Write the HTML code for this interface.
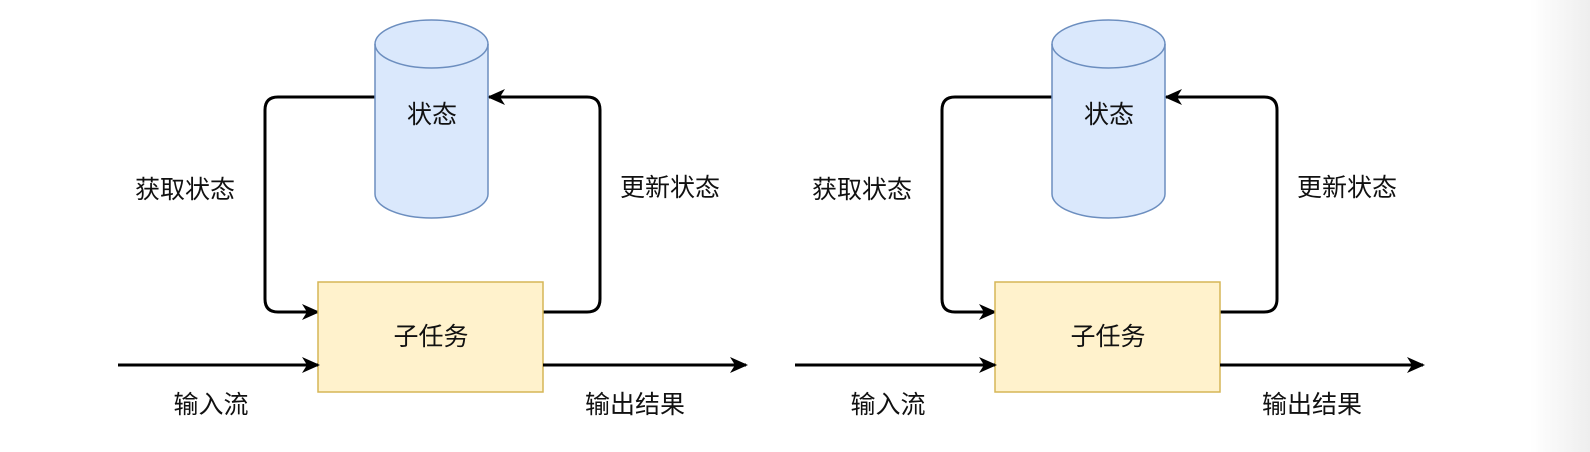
<!DOCTYPE html>
<html><head><meta charset="utf-8"><style>
html,body{margin:0;padding:0;width:1590px;height:452px;overflow:hidden;background:#fff}
svg{display:block}
text{font-family:"Liberation Sans","Noto Sans CJK SC",sans-serif;font-size:25px;fill:#111;text-anchor:middle;dominant-baseline:central}
</style></head><body>
<svg width="1590" height="452" viewBox="0 0 1590 452">
<defs>
<linearGradient id="g" x1="0" x2="1"><stop offset="0" stop-color="#fff"/><stop offset="1" stop-color="#eeeeee"/></linearGradient>
<marker id="a" markerWidth="18" markerHeight="18" refX="16" refY="9" orient="auto" markerUnits="userSpaceOnUse"><path d="M0,1 L18,9 L0,17 L5,9 Z" fill="#000"/></marker>
<g id="d">
<path d="M375,97 H278 Q265,97 265,110 V299 Q265,312 278,312 H318" fill="none" stroke="#000" stroke-width="3" marker-end="url(#a)"/>
<path d="M543,312 H587 Q600,312 600,299 V110 Q600,97 587,97 H489" fill="none" stroke="#000" stroke-width="3" marker-end="url(#a)"/>
<path d="M375,44 V194 A56.5,24 0 0 0 488,194 V44 A56.5,24 0 0 0 375,44 Z" fill="#dae8fc" stroke="#6c8ebf" stroke-width="1.5"/>
<path d="M375,44 A56.5,24 0 0 0 488,44" fill="none" stroke="#6c8ebf" stroke-width="1.5"/>
<text x="432" y="115">状态</text>
<rect x="318" y="282" width="225" height="110" fill="#fff2cc" stroke="#d6b656" stroke-width="1.5"/>
<text x="431" y="337">子任务</text>
<path d="M118,365 H318" stroke="#000" stroke-width="3" marker-end="url(#a)"/>
<path d="M543,365 H746" stroke="#000" stroke-width="3" marker-end="url(#a)"/>
<text x="185" y="190">获取状态</text>
<text x="670" y="188">更新状态</text>
<text x="211" y="405">输入流</text>
<text x="635" y="405">输出结果</text>
</g>
</defs>
<rect x="1530" y="0" width="60" height="452" fill="url(#g)"/>
<use href="#d"/>
<use href="#d" x="677"/>
</svg>
</body></html>
